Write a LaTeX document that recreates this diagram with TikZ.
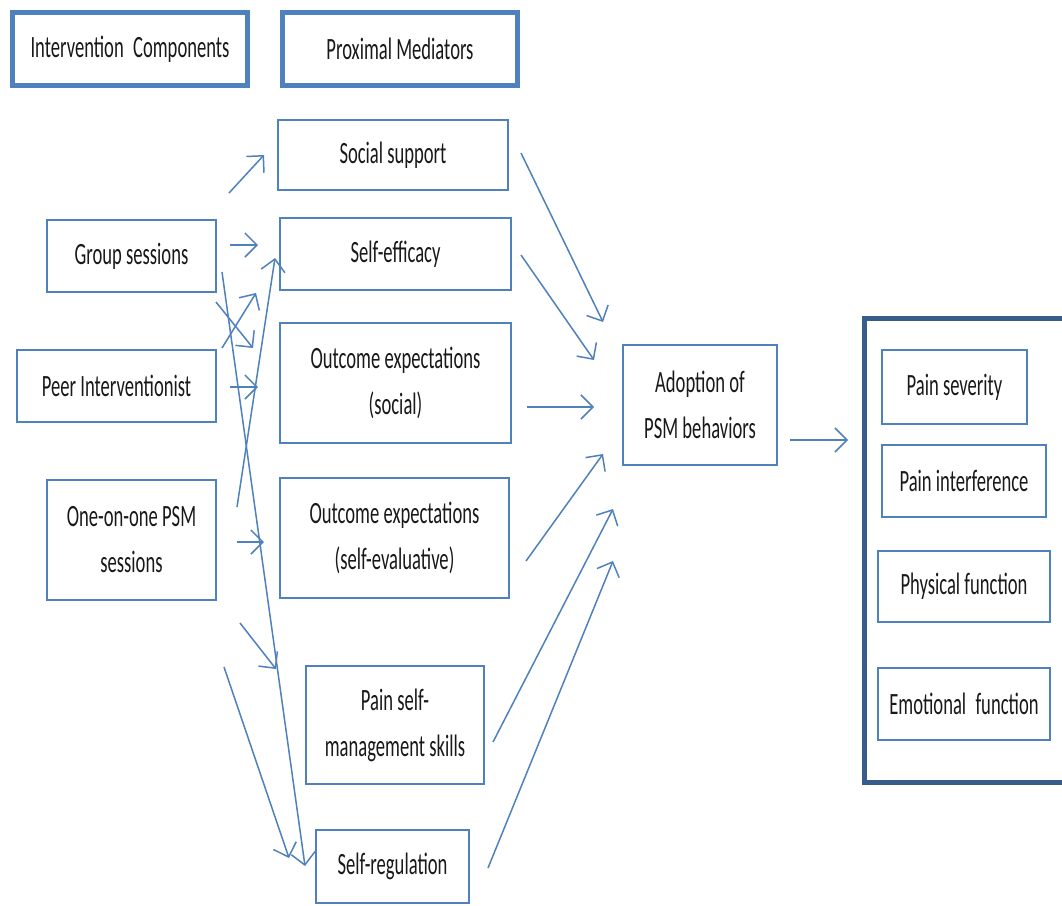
\documentclass[tikz,border=0pt]{standalone}
\usepackage{fontspec}
\setmainfont{Carlito}[FakeStretch=0.6]
\usetikzlibrary{arrows.meta}
\definecolor{lb}{RGB}{79,129,189}
\definecolor{db}{RGB}{56,93,138}
\begin{document}
\begin{tikzpicture}[x=1pt,y=-1pt,
  box/.style={draw=lb, line width=1.5pt, fill=white, align=center, inner sep=0pt,
    font=\fontsize{31}{46}\selectfont, text=black!90},
  hdr/.style={box, line width=5pt},
  arr/.style={draw=lb, line width=1.5pt, -{Straight Barb[length=12pt,width=24pt]}}]
\useasboundingbox (0,0) rectangle (1062,905);
\clip (0,0) rectangle (1062,905);
\fill[white] (0,0) rectangle (1062,905);

% headers
\node[hdr, minimum width=235, minimum height=73] (hic) at (130,49) {Intervention\, Components};
\node[hdr, minimum width=235, minimum height=73] (hpm) at (400,49) {Proximal Mediators};

% intervention components
\node[box, minimum width=169, minimum height=72] (group) at (131.5,256) {Group sessions};
\node[box, minimum width=199, minimum height=72] (peer) at (116.5,386) {Peer Interventionist};
\node[box, minimum width=169, minimum height=120] (one) at (131.5,540) {One-on-one PSM\\sessions};

% mediators
\node[box, minimum width=230, minimum height=70] (social) at (393,155) {Social support};
\node[box, minimum width=231, minimum height=72] (selfeff) at (395.5,254) {Self-efficacy};
\node[box, minimum width=231, minimum height=120] (oesoc) at (395.5,383) {Outcome expectations\\(social)};
\node[box, minimum width=229, minimum height=120] (oeself) at (394.5,538) {Outcome expectations\\(self-evaluative)};
\node[box, minimum width=178, minimum height=118] (psm) at (395,725) {Pain self-\\management skills};
\node[box, minimum width=153, minimum height=73] (selfreg) at (392.5,866.5) {Self-regulation};

% adoption
\node[box, minimum width=154, minimum height=120] (adopt) at (700,405) {Adoption of\\PSM behaviors};

% outcomes
\draw[db, line width=5pt] (864.5,318.5) rectangle (1085,782.5);
\node[box, minimum width=145, minimum height=74] (sev) at (954.5,387) {Pain severity};
\node[box, minimum width=164, minimum height=72] (intf) at (964,481) {Pain interference};
\node[box, minimum width=172, minimum height=71] (phys) at (964,586.5) {Physical function};
\node[box, minimum width=172, minimum height=72] (emo) at (964,704) {Emotional\, function};

% arrow end points
\coordinate (a1s) at (229,193);  \coordinate (a1e) at (264,155);
\coordinate (a2s) at (230,245);  \coordinate (a2e) at (258,245);
\coordinate (a3s) at (222,272);  \coordinate (a3e) at (305,866);
\coordinate (a4s) at (216,302);  \coordinate (a4e) at (253,348);
\coordinate (a5s) at (222,348);  \coordinate (a5e) at (256,293);
\coordinate (a6s) at (230,387);  \coordinate (a6e) at (258,387);
\coordinate (a7s) at (237,507);  \coordinate (a7e) at (275,258);
\coordinate (a8s) at (237,542);  \coordinate (a8e) at (264,542);
\coordinate (a9s) at (240,623);  \coordinate (a9e) at (276,669);
\coordinate (a10s) at (224,667); \coordinate (a10e) at (289,858);
\coordinate (b1s) at (521,153);  \coordinate (b1e) at (603,322);
\coordinate (b2s) at (521,255);  \coordinate (b2e) at (594,360);
\coordinate (b3s) at (527,407);  \coordinate (b3e) at (594,407);
\coordinate (b4s) at (526,561);  \coordinate (b4e) at (603,454);
\coordinate (b5s) at (493,742);  \coordinate (b5e) at (613,509);
\coordinate (b6s) at (488,868);  \coordinate (b6e) at (613,561);
\coordinate (c1s) at (790,440);  \coordinate (c1e) at (848,440);

\foreach \a in {a1,a2,a3,a4,a5,a6,a7,a8,a9,a10,b1,b2,b3,b4,b5,b6,c1}
  \draw[arr] (\a s) -- (\a e);
\end{tikzpicture}
\end{document}
